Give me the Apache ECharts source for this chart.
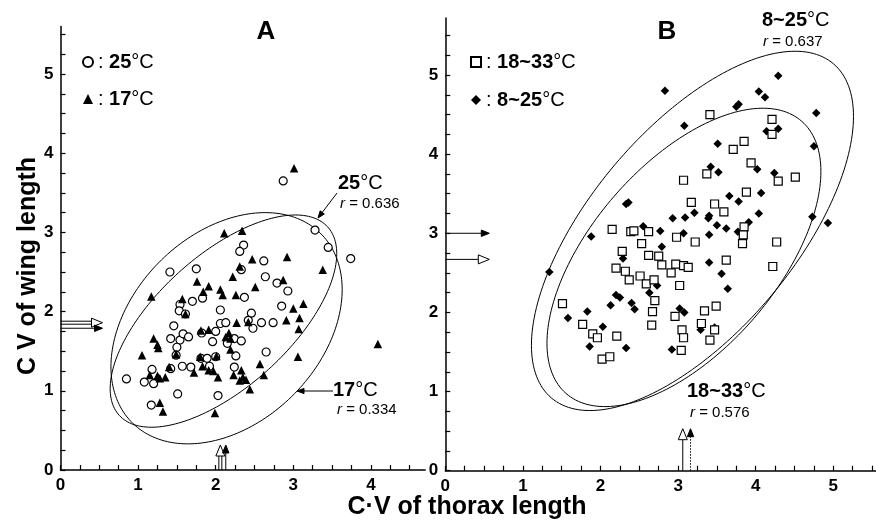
<!DOCTYPE html>
<html>
<head>
<meta charset="utf-8">
<script src="https://cdn.jsdelivr.net/npm/echarts@6/dist/echarts.min.js"></script>
<style>html,body{margin:0;padding:0;background:#fff}#c{width:876px;height:522px}</style>
</head>
<body>
<div id="c"></div>
<script>
// ---------------- data ----------------
const xLabelsA = [0, 1, 2, 3, 4];
const xLabelsB = [0, 1, 2, 3, 4, 5];
const yLabels = [0, 1, 2, 3, 4, 5];

// Panel A, 25°C (open circles)
const a25 = [[2.87,3.65],[3.28,3.03],[3.45,2.81],[3.74,2.67],[2.36,2.84],[2.31,2.76],[2.62,2.64],[2.64,2.44],[2.79,2.36],[2.93,2.26],[2.33,2.53],[2.37,2.18],[1.41,2.50],[1.75,2.54],[1.70,2.13],[1.83,2.17],[1.54,2.09],[1.53,2.01],[1.61,1.97],[2.06,2.02],[2.46,1.98],[2.48,1.79],[2.59,1.86],[2.74,1.86],[2.85,2.07],[2.06,1.85],[2.13,1.86],[2.42,1.89],[1.46,1.82],[1.42,1.66],[1.54,1.64],[1.58,1.72],[1.65,1.68],[1.50,1.55],[1.49,1.45],[1.82,1.73],[2.00,1.75],[1.96,1.62],[2.24,1.66],[2.33,1.63],[2.15,1.60],[2.26,1.44],[2.65,1.49],[1.81,1.41],[1.89,1.41],[2.00,1.43],[1.92,1.31],[2.24,1.30],[1.57,1.31],[1.68,1.30],[1.42,1.28],[1.18,1.27],[1.08,1.11],[1.20,1.09],[0.85,1.15],[1.51,0.96],[2.03,0.94],[1.17,0.82]];
// Panel A, 17°C (filled triangles)
const a17 = [[3.01,3.81],[2.11,2.99],[2.34,3.02],[2.47,2.66],[2.92,2.69],[3.38,2.53],[2.22,2.44],[2.31,2.57],[2.51,2.31],[2.87,2.40],[1.91,2.32],[2.06,2.28],[2.09,2.21],[2.26,2.21],[1.76,2.38],[1.17,2.19],[1.57,2.16],[1.84,2.25],[3.00,2.04],[3.13,2.10],[2.91,1.89],[3.08,1.92],[3.07,1.78],[3.06,1.43],[4.09,1.59],[1.61,1.97],[2.27,1.86],[2.42,1.87],[1.81,1.76],[1.91,1.77],[2.17,1.73],[2.19,1.66],[1.20,1.66],[1.25,1.58],[1.26,1.54],[1.05,1.45],[1.49,1.46],[2.19,1.52],[1.80,1.43],[1.83,1.31],[1.91,1.26],[1.97,1.25],[2.03,1.17],[1.72,1.23],[1.40,1.30],[1.35,1.17],[1.15,1.20],[1.25,1.19],[1.28,1.16],[2.23,1.20],[2.33,1.26],[2.35,1.17],[2.31,1.13],[2.39,1.14],[2.57,1.34],[2.62,1.20],[2.44,1.02],[1.28,0.85],[1.32,0.74],[1.99,0.72],[2.13,1.68],[2.01,1.44]];
// Panel B, 18~33°C (open squares)
const b1833 = [[3.41,4.50],[4.21,4.44],[4.21,4.25],[3.85,4.16],[3.71,4.06],[3.94,3.89],[3.37,3.75],[4.29,3.66],[4.51,3.71],[3.07,3.67],[3.88,3.52],[3.17,3.39],[3.47,3.37],[3.59,3.27],[2.15,3.05],[2.39,3.02],[2.43,3.03],[2.62,3.02],[3.85,3.08],[3.84,2.98],[3.83,2.87],[2.98,2.95],[3.22,2.89],[4.27,2.89],[2.28,2.77],[2.53,2.87],[2.62,2.72],[2.75,2.71],[3.62,2.66],[2.79,2.60],[2.91,2.50],[2.97,2.61],[3.07,2.59],[3.13,2.57],[2.20,2.56],[2.32,2.52],[2.37,2.41],[2.51,2.46],[2.59,2.36],[2.69,2.41],[3.02,2.34],[1.51,2.11],[2.70,2.15],[2.67,2.01],[2.96,1.95],[2.66,1.84],[1.77,1.85],[1.90,1.73],[1.96,1.68],[2.21,1.70],[2.02,1.41],[2.12,1.44],[3.05,1.78],[3.07,1.68],[3.04,1.52],[3.30,1.86],[3.34,2.02],[3.49,2.08],[3.47,1.78],[3.41,1.65],[4.22,2.58]];
// Panel B, 8~25°C (filled diamonds)
const b825 = [[2.83,4.80],[3.08,4.36],[4.29,4.99],[4.04,4.79],[4.12,4.72],[3.75,4.60],[3.78,4.63],[4.78,4.52],[4.14,4.29],[4.29,4.32],[3.51,4.13],[4.75,4.10],[3.42,3.84],[3.52,3.77],[4.02,3.81],[4.24,3.76],[4.93,3.13],[4.73,3.21],[2.33,3.37],[2.36,3.39],[1.88,2.96],[2.93,3.19],[3.09,3.20],[3.21,3.26],[3.40,3.22],[3.39,3.19],[3.50,3.10],[3.62,3.06],[3.66,3.47],[3.78,3.40],[4.07,3.51],[4.04,3.25],[3.91,3.14],[3.77,3.02],[3.40,2.98],[2.77,3.03],[2.55,3.09],[3.07,3.00],[2.79,2.83],[2.29,2.68],[1.34,2.51],[2.73,2.34],[2.63,2.25],[2.20,2.22],[2.25,2.19],[2.13,2.09],[2.40,2.12],[2.44,2.04],[1.83,2.01],[1.58,1.93],[2.03,1.82],[1.86,1.57],[2.33,1.55],[3.02,2.05],[3.08,2.00],[2.92,1.53],[3.29,1.78],[3.40,2.63],[3.56,2.49],[3.64,2.30],[3.47,1.81]];

// means (arrows on the axes): [x mean, y mean]
const meanA25 = [2.06, 1.86];
const meanA17 = [2.13, 1.79];
const meanB1833 = [3.06, 2.67];
const meanB825 = [3.16, 3.00];

// ellipses: [centre x, centre y, half width, half height, r]
const ellA25 = [2.10, 1.88, 1.46, 1.34, 0.636];
const ellA17 = [2.14, 1.79, 1.49, 1.46, 0.334];
const ellB1833 = [3.075, 2.695, 1.765, 1.885, 0.576];
const ellB825 = [3.185, 3.03, 2.075, 2.27, 0.637];

// ---------------- chart ----------------
const FONT = '"Liberation Sans", Arial, Helvetica, sans-serif';
function quarters(max) { const a = []; for (let i = 0; i * 0.25 <= max + 1e-9; i++) a.push(i * 0.25); return a; }

function axis(gridIndex, max, labels, tickMax) {
  return {
    type: 'value', gridIndex, min: 0, max,
    axisLine: { show: true, onZero: false, lineStyle: { color: '#000', width: 1.5 } },
    axisTick: { show: true, inside: true, length: 5, customValues: quarters(tickMax), lineStyle: { color: '#000', width: 1.2 } },
    axisLabel: { customValues: labels, color: '#000', fontFamily: FONT, fontWeight: 'bold', fontSize: 17, margin: 7, formatter: v => String(v) },
    splitLine: { show: false }
  };
}

function arrowEls(s, t, hollow, shaft, hl, hw) {
  const L = Math.hypot(t[0] - s[0], t[1] - s[1]);
  const d = [(t[0] - s[0]) / L, (t[1] - s[1]) / L];
  const n = [-d[1], d[0]];
  const hb = [t[0] - d[0] * hl, t[1] - d[1] * hl];
  const ch = [];
  if (shaft === 2) {
    for (const o of [-1.5, 1.5]) ch.push({ type: 'line', shape: { x1: s[0] + n[0] * o, y1: s[1] + n[1] * o, x2: hb[0] + n[0] * o, y2: hb[1] + n[1] * o }, style: { stroke: '#000', lineWidth: 1 } });
  } else {
    ch.push({ type: 'line', shape: { x1: s[0], y1: s[1], x2: hb[0], y2: hb[1] }, style: { stroke: '#000', lineWidth: 1, lineDash: shaft === 1 ? [1.5, 1.5] : null } });
  }
  ch.push({ type: 'polygon', shape: { points: [t, [hb[0] + n[0] * hw, hb[1] + n[1] * hw], [hb[0] - n[0] * hw, hb[1] - n[1] * hw]] }, style: { fill: hollow ? '#fff' : '#000', stroke: '#000', lineWidth: 1 } });
  return ch;
}

function ellipseSeries(e, gi) {
  return {
    type: 'custom', xAxisIndex: gi, yAxisIndex: gi, silent: true, z: 1, clip: false,
    data: [e],
    renderItem: (p, api) => {
      const cx = api.value(0), cy = api.value(1), kx = api.value(2), ky = api.value(3), r = api.value(4);
      const s = Math.sqrt(1 - r * r);
      const pts = [];
      for (let i = 0; i <= 200; i++) {
        const t = i / 200 * 2 * Math.PI;
        pts.push(api.coord([cx + kx * Math.cos(t), cy + ky * (r * Math.cos(t) + s * Math.sin(t))]));
      }
      return { type: 'polyline', shape: { points: pts }, style: { stroke: '#000', lineWidth: 1, fill: null } };
    }
  };
}

// item: [x, y, dir(0 up from x axis, 1 right from y axis), hollow, shaft style]
function meanArrowSeries(items, gi, lenUp, lenRight) {
  return {
    type: 'custom', xAxisIndex: gi, yAxisIndex: gi, silent: true, z: 5, clip: false,
    data: items,
    renderItem: (p, api) => {
      const b = api.coord([api.value(0), api.value(1)]);
      const dir = api.value(2), hollow = api.value(3), shaft = api.value(4);
      const t = dir === 0 ? [b[0], b[1] - lenUp] : [b[0] + lenRight, b[1]];
      const hl = hollow ? 11 : 8, hw = hollow ? 4.5 : 3.2;
      return { type: 'group', children: arrowEls(b, t, hollow, shaft, hl, hw) };
    }
  };
}

const boldTxt = { fontWeight: 'bold', fontSize: 20, fontFamily: FONT, fill: '#000', color: '#000' };
const normTxt = { fontSize: 20, fontFamily: FONT, fill: '#000', color: '#000' };
function tempLabel(x, y, num) {
  return { type: 'text', x, y, style: { text: '{b|' + num + '}{n|°C}', rich: { b: boldTxt, n: normTxt }, verticalAlign: 'middle', textVerticalAlign: 'middle' }, z: 10 };
}
function rLabel(x, y, val) {
  return { type: 'text', x, y, style: { text: '{i|r}{n| = ' + val + '}', rich: { i: { fontStyle: 'italic', fontSize: 15, fontFamily: FONT, fill: '#000' }, n: { fontSize: 15, fontFamily: FONT, fill: '#000' } }, verticalAlign: 'middle', textVerticalAlign: 'middle' }, z: 10 };
}

const legendText = {
  color: '#000', fontFamily: FONT, fontSize: 20, lineHeight: 20,
  rich: { b: { fontWeight: 'bold', fontSize: 20, fontFamily: FONT, color: '#000' }, n: { fontSize: 20, fontFamily: FONT, color: '#000' } }
};
const legendFmt = name => ': {b|' + name.replace('°C', '') + '}{n|°C}';

const chart = echarts.init(document.getElementById('c'), null, { renderer: 'canvas' });
chart.setOption({
  animation: false,
  backgroundColor: '#fff',
  grid: [
    { left: 60.5, top: 26.5, width: 364.7, height: 443.5 },
    { left: 445.3, top: 18, width: 431.8, height: 452.7 }
  ],
  xAxis: [axis(0, 4.7, xLabelsA, 4.5), axis(1, 5.55, xLabelsB, 5.5)],
  yAxis: [axis(0, 5.6, yLabels, 5.5), axis(1, 5.72, yLabels, 5.5)],
  legend: [
    { data: ['25°C', '17°C'], left: 77, top: 47, orient: 'vertical', itemWidth: 10, itemHeight: 10, itemGap: 17, selectedMode: false, formatter: legendFmt, textStyle: legendText },
    { data: ['18~33°C', '8~25°C'], left: 465, top: 47, orient: 'vertical', itemWidth: 10, itemHeight: 10, itemGap: 18, selectedMode: false, formatter: legendFmt, textStyle: legendText }
  ],
  series: [
    ellipseSeries(ellA25, 0), ellipseSeries(ellA17, 0),
    ellipseSeries(ellB1833, 1), ellipseSeries(ellB825, 1),
    { name: '25°C', type: 'scatter', xAxisIndex: 0, yAxisIndex: 0, data: a25, symbol: 'circle', symbolSize: 8, z: 2,
      itemStyle: { color: '#fff', borderColor: '#000', borderWidth: 1.2, opacity: 1 } },
    { name: '17°C', type: 'scatter', xAxisIndex: 0, yAxisIndex: 0, data: a17, symbol: 'triangle', symbolSize: 8.5, z: 3,
      itemStyle: { color: '#000', opacity: 1 } },
    { name: '8~25°C', type: 'scatter', xAxisIndex: 1, yAxisIndex: 1, data: b825, symbol: 'diamond', symbolSize: 8.5, z: 2,
      itemStyle: { color: '#000', opacity: 1 } },
    { name: '18~33°C', type: 'scatter', xAxisIndex: 1, yAxisIndex: 1, data: b1833, symbol: 'rect', symbolSize: 8, z: 3,
      itemStyle: { color: '#fff', borderColor: '#000', borderWidth: 1.2, opacity: 1 } },
    meanArrowSeries([
      [meanA25[0], 0, 0, 1, 2], [meanA17[0], 0, 0, 0, 0],
      [0, meanA25[1], 1, 1, 2], [0, meanA17[1], 1, 0, 0]
    ], 0, 25, 42),
    meanArrowSeries([
      [meanB1833[0], 0, 0, 1, 0], [meanB825[0], 0, 0, 0, 1],
      [0, meanB1833[1], 1, 1, 0], [0, meanB825[1], 1, 0, 0]
    ], 1, 42, 44)
  ],
  graphic: [
    { type: 'text', x: 266, y: 32, style: { text: 'A', font: 'bold 26px ' + FONT, fill: '#000', align: 'center', verticalAlign: 'middle', textAlign: 'center', textVerticalAlign: 'middle' } },
    { type: 'text', x: 667, y: 32, style: { text: 'B', font: 'bold 26px ' + FONT, fill: '#000', align: 'center', verticalAlign: 'middle', textAlign: 'center', textVerticalAlign: 'middle' } },
    { type: 'text', x: 28, y: 266, rotation: Math.PI / 2, style: { text: 'C V of wing length', font: 'bold 25px ' + FONT, fill: '#000', align: 'center', verticalAlign: 'middle', textAlign: 'center', textVerticalAlign: 'middle' } },
    { type: 'text', x: 467, y: 507, style: { text: 'C·V of thorax length', font: 'bold 25px ' + FONT, fill: '#000', align: 'center', verticalAlign: 'middle', textAlign: 'center', textVerticalAlign: 'middle' } },
    tempLabel(338, 183, '25'), rLabel(340, 204, '0.636'),
    tempLabel(333, 390, '17'), rLabel(337, 410, '0.334'),
    tempLabel(762, 20, '8~25'), rLabel(763, 42, '0.637'),
    tempLabel(687, 391, '18~33'), rLabel(690, 413, '0.576'),
    { type: 'group', children: arrowEls([337, 193], [318, 218], 0, 0, 7, 2.6) },
    { type: 'group', children: arrowEls([333, 391], [297, 391], 0, 0, 7, 2.6) }
  ]
});
</script>
</body>
</html>
